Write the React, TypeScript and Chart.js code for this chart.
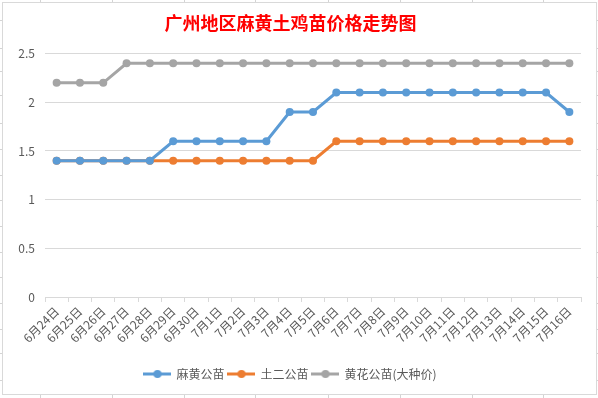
import React, { useEffect, useRef } from "react";
import { Chart, registerables } from "chart.js";

Chart.register(...registerables);

const TITLE = "广州地区麻黄土鸡苗价格走势图";

const categories = [
  "6月24日", "6月25日", "6月26日", "6月27日", "6月28日", "6月29日", "6月30日",
  "7月1日", "7月2日", "7月3日", "7月4日", "7月5日", "7月6日", "7月7日", "7月8日",
  "7月9日", "7月10日", "7月11日", "7月12日", "7月13日", "7月14日", "7月15日", "7月16日",
];

const seriesNames = ["麻黄公苗", "土二公苗", "黄花公苗(大种价)"];

const mahuang = [1.4, 1.4, 1.4, 1.4, 1.4, 1.6, 1.6, 1.6, 1.6, 1.6, 1.9, 1.9, 2.1, 2.1, 2.1, 2.1, 2.1, 2.1, 2.1, 2.1, 2.1, 2.1, 1.9];
const tuer = [1.4, 1.4, 1.4, 1.4, 1.4, 1.4, 1.4, 1.4, 1.4, 1.4, 1.4, 1.4, 1.6, 1.6, 1.6, 1.6, 1.6, 1.6, 1.6, 1.6, 1.6, 1.6, 1.6];
const huanghua = [2.2, 2.2, 2.2, 2.4, 2.4, 2.4, 2.4, 2.4, 2.4, 2.4, 2.4, 2.4, 2.4, 2.4, 2.4, 2.4, 2.4, 2.4, 2.4, 2.4, 2.4, 2.4, 2.4];

const yMin = 0;
const yMax = 2.5;
const yStep = 0.5;

const colors = ["#5B9BD5", "#ED7D31", "#A5A5A5"];

const FONT = '"Noto Sans CJK SC", "Noto Sans", sans-serif';

const sheetCols = [40, 112, 184, 255, 328, 400, 472, 543];
const sheetRows = [20, 48, 71, 95, 123, 149, 175, 200, 226, 252, 277, 303, 329, 353, 380];

function makeIcon(color: string): HTMLCanvasElement {
  const c = document.createElement("canvas");
  c.width = 28;
  c.height = 10;
  const ctx = c.getContext("2d")!;
  ctx.strokeStyle = color;
  ctx.lineWidth = 3;
  ctx.beginPath();
  ctx.moveTo(0, 5);
  ctx.lineTo(28, 5);
  ctx.stroke();
  ctx.fillStyle = color;
  ctx.beginPath();
  ctx.arc(14, 5, 4, 0, Math.PI * 2);
  ctx.fill();
  return c;
}

export default function App() {
  const ref = useRef<HTMLCanvasElement | null>(null);

  useEffect(() => {
    document.body.style.margin = "0";
    if (!ref.current) return;
    const icons = colors.map(makeIcon);
    const series = [mahuang, tuer, huanghua];
    const chart = new Chart(ref.current, {
      type: "line",
      data: {
        labels: categories,
        datasets: series.map((d, i) => ({
          label: seriesNames[i],
          data: d,
          borderColor: colors[i],
          backgroundColor: colors[i],
          borderWidth: 3,
          pointRadius: 4,
          pointHoverRadius: 4,
          pointBackgroundColor: colors[i],
          pointBorderColor: colors[i],
          pointBorderWidth: 0,
          tension: 0,
          fill: false,
        })),
      },
      options: {
        responsive: false,
        animation: false,
        events: [],
        layout: { padding: { top: 8, right: 17, bottom: 8, left: 0 } },
        font: { family: FONT },
        scales: {
          x: {
            offset: true,
            grid: {
              offset: true,
              drawOnChartArea: false,
              drawTicks: true,
              tickLength: 5,
              color: "#D9D9D9",
            },
            border: { display: true, color: "#D9D9D9", width: 1 },
            ticks: {
              color: "#595959",
              font: { family: FONT, size: 12 },
              minRotation: 45,
              maxRotation: 45,
              autoSkip: false,
              padding: 2,
            },
            afterFit: (s: any) => {
              s.height = 67;
            },
          },
          y: {
            min: yMin,
            max: yMax,
            grid: { color: "#D9D9D9", drawTicks: false },
            border: { display: false },
            ticks: {
              stepSize: yStep,
              color: "#595959",
              font: { family: FONT, size: 12 },
              padding: 10,
              callback: (v: any) => String(Number(v)),
            },
            afterFit: (s: any) => {
              s.width = 45;
            },
          },
        },
        plugins: {
          title: {
            display: true,
            text: TITLE,
            color: "#FF0000",
            font: { family: FONT, size: 18, weight: "bold" },
            padding: { top: 4, bottom: 20 },
          },
          legend: {
            position: "bottom",
            labels: {
              usePointStyle: true,
              pointStyleWidth: 26,
              color: "#595959",
              font: { family: FONT, size: 12 },
              padding: 4,
              generateLabels: (c: any) =>
                Chart.defaults.plugins.legend.labels
                  .generateLabels(c)
                  .map((l: any, i: number) => ({ ...l, pointStyle: icons[i] })),
            },
          },
          tooltip: { enabled: false },
        },
      },
    });
    return () => chart.destroy();
  }, []);

  return (
    <div style={{ position: "relative", width: 598, height: 398, background: "#fff", overflow: "hidden" }}>
      {sheetCols.map((x) => (
        <div key={"c" + x} style={{ position: "absolute", left: x, top: 0, width: 1, height: 398, background: "#D4D4D4" }} />
      ))}
      {sheetRows.map((y) => (
        <div key={"r" + y} style={{ position: "absolute", left: 0, top: y, width: 598, height: 1, background: "#D4D4D4" }} />
      ))}
      <div
        style={{
          position: "absolute",
          left: 2,
          top: 2,
          width: 595,
          height: 393,
          boxSizing: "border-box",
          border: "1px solid #D9D9D9",
          background: "#fff",
        }}
      />
      <canvas ref={ref} width={598} height={398} style={{ position: "absolute", left: 0, top: 0 }} />
    </div>
  );
}
